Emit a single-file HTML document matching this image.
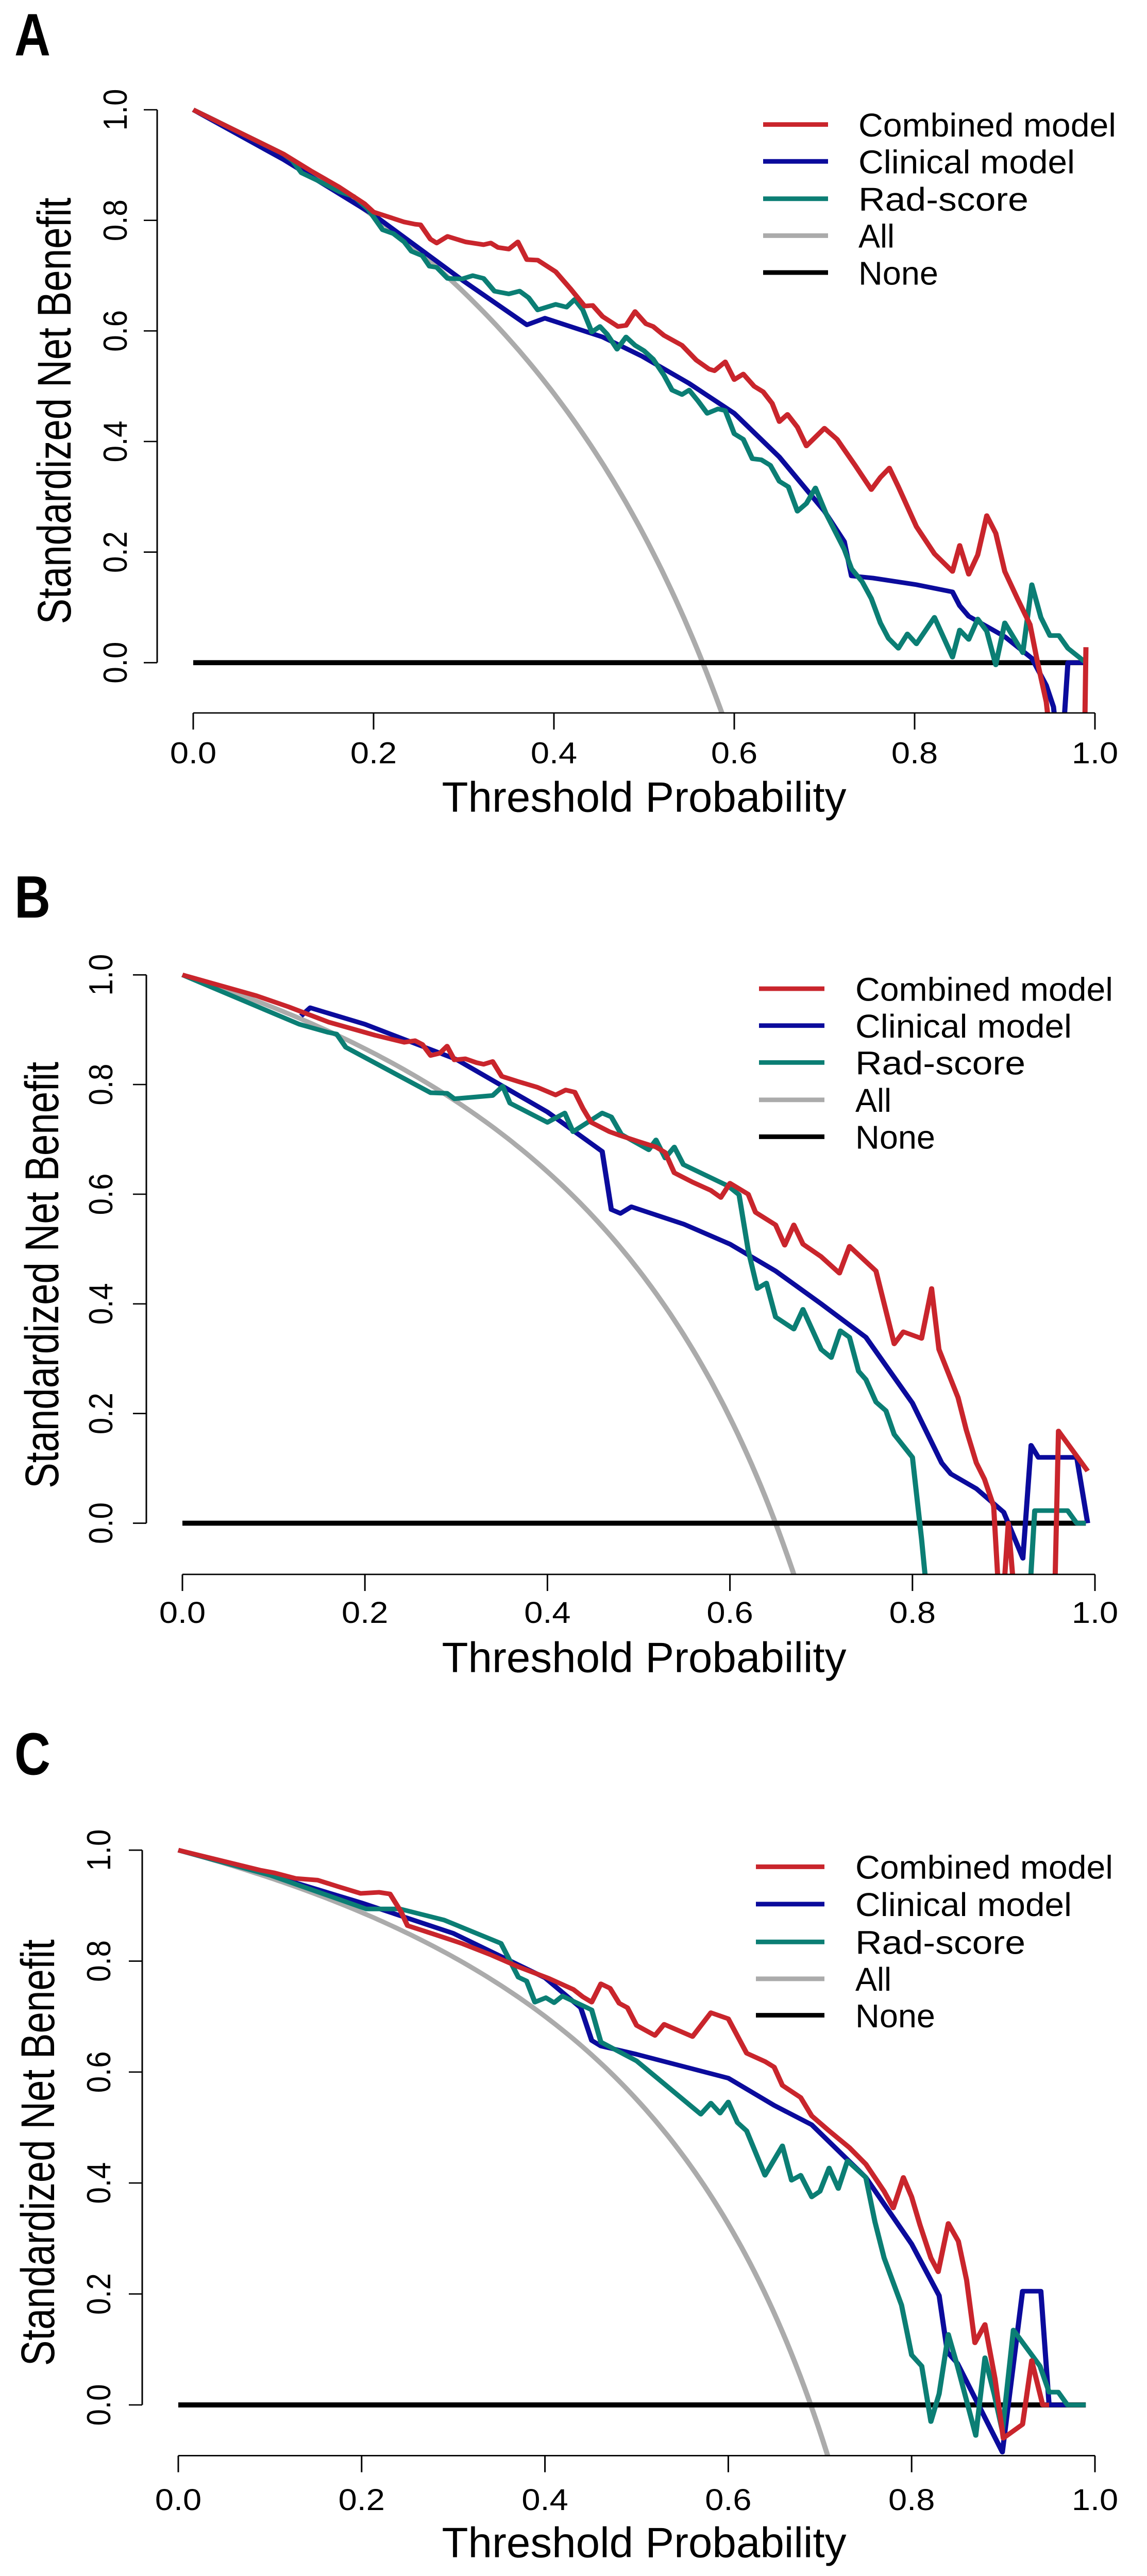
<!DOCTYPE html>
<html><head><meta charset="utf-8"><title>Decision curves</title>
<style>html,body{margin:0;padding:0;background:#fff;width:100%;height:100%;overflow:hidden}svg{display:block;position:absolute;left:0;top:0;width:100vw;height:100vh}text{font-family:"Liberation Sans",sans-serif}</style>
</head><body>
<svg id="fig" viewBox="0 0 2226 5586" preserveAspectRatio="none" xmlns="http://www.w3.org/2000/svg"></svg>
<script>
// ---------- data ----------
const xTicks=[0,0.2,0.4,0.6,0.8,1.0];
const xTickLabels=["0.0","0.2","0.4","0.6","0.8","1.0"];
const yTicks=[0,0.2,0.4,0.6,0.8,1.0];
const yTickLabels=["0.0","0.2","0.4","0.6","0.8","1.0"];
const seriesNames=["Combined model","Clinical model","Rad-score","All","None"];
const panelLetters=["A","B","C"];
// prevalence (zero-crossing of "All" curve) per panel
const prevalence=[0.565,0.65,0.69];

const aCombX=[0,0.1,0.13,0.162,0.19,0.2,0.234,0.246,0.252,0.263,0.27,0.282,0.302,0.322,0.33,0.338,0.35,0.36,0.37,0.382,0.402,0.418,0.434,0.443,0.454,0.471,0.48,0.49,0.502,0.51,0.522,0.542,0.558,0.572,0.578,0.59,0.6,0.61,0.622,0.632,0.642,0.65,0.659,0.67,0.68,0.7,0.714,0.734,0.752,0.762,0.772,0.782,0.802,0.822,0.842,0.85,0.86,0.87,0.88,0.89,0.9,0.914,0.928,0.936,0.946,0.955,0.988,0.99];
const aCombY=[1,0.92,0.89,0.86,0.83,0.815,0.797,0.793,0.792,0.766,0.759,0.771,0.761,0.756,0.759,0.751,0.748,0.761,0.729,0.728,0.707,0.677,0.645,0.646,0.626,0.608,0.61,0.635,0.613,0.608,0.592,0.574,0.547,0.531,0.528,0.544,0.512,0.522,0.5,0.49,0.469,0.436,0.449,0.426,0.392,0.424,0.404,0.357,0.313,0.335,0.352,0.318,0.246,0.197,0.165,0.212,0.16,0.195,0.266,0.234,0.165,0.116,0.069,0.003,-0.071,-0.2,-0.2,0.028];
const aClinX=[0,0.1,0.13,0.2,0.3,0.37,0.39,0.454,0.498,0.55,0.6,0.65,0.7,0.722,0.73,0.754,0.802,0.842,0.85,0.86,0.9,0.93,0.946,0.954,0.962,0.97,0.99];
const aClinY=[1,0.91,0.88,0.81,0.69,0.611,0.623,0.589,0.554,0.505,0.451,0.372,0.274,0.219,0.157,0.153,0.141,0.128,0.103,0.084,0.047,0.008,-0.041,-0.08,-0.2,0,0];
const aRadX=[0,0.1,0.11,0.12,0.138,0.162,0.178,0.194,0.21,0.222,0.234,0.242,0.254,0.262,0.27,0.282,0.298,0.31,0.322,0.334,0.35,0.362,0.372,0.382,0.402,0.414,0.423,0.432,0.442,0.451,0.459,0.47,0.48,0.49,0.5,0.51,0.522,0.531,0.542,0.55,0.56,0.57,0.582,0.59,0.6,0.61,0.62,0.63,0.64,0.65,0.66,0.67,0.68,0.69,0.702,0.722,0.73,0.742,0.752,0.762,0.771,0.782,0.792,0.802,0.822,0.842,0.85,0.86,0.87,0.88,0.89,0.9,0.92,0.93,0.94,0.95,0.96,0.97,0.99];
const aRadY=[1,0.92,0.908,0.886,0.872,0.852,0.843,0.82,0.783,0.776,0.761,0.744,0.736,0.717,0.715,0.695,0.694,0.7,0.695,0.672,0.667,0.672,0.66,0.638,0.648,0.643,0.657,0.638,0.598,0.608,0.594,0.567,0.589,0.574,0.564,0.549,0.52,0.493,0.485,0.493,0.473,0.451,0.459,0.456,0.414,0.404,0.369,0.367,0.357,0.328,0.318,0.274,0.288,0.316,0.269,0.205,0.17,0.146,0.116,0.072,0.044,0.026,0.052,0.034,0.082,0.01,0.059,0.042,0.079,0.057,-0.004,0.072,0.018,0.141,0.082,0.049,0.049,0.026,0];

const bCombX=[0,0.081,0.116,0.16,0.211,0.243,0.255,0.263,0.272,0.282,0.29,0.298,0.31,0.322,0.33,0.34,0.35,0.369,0.389,0.409,0.42,0.43,0.439,0.448,0.468,0.478,0.5,0.519,0.529,0.539,0.559,0.579,0.59,0.6,0.62,0.628,0.65,0.66,0.67,0.68,0.7,0.72,0.731,0.76,0.78,0.79,0.81,0.821,0.829,0.85,0.859,0.87,0.879,0.889,0.897,0.905,0.915,0.955,0.96,0.992];
const bCombY=[1,0.962,0.942,0.914,0.89,0.877,0.88,0.873,0.853,0.857,0.87,0.845,0.847,0.84,0.837,0.842,0.815,0.805,0.795,0.781,0.79,0.786,0.756,0.731,0.714,0.708,0.696,0.686,0.676,0.639,0.622,0.607,0.594,0.62,0.6,0.567,0.544,0.507,0.544,0.509,0.486,0.456,0.505,0.46,0.327,0.349,0.337,0.428,0.317,0.229,0.17,0.11,0.08,0.031,-0.2,0,-0.2,-0.2,0.168,0.095];
const bClinX=[0.13,0.14,0.2,0.3,0.4,0.46,0.47,0.48,0.492,0.55,0.6,0.65,0.7,0.749,0.8,0.832,0.842,0.87,0.9,0.921,0.93,0.938,0.98,0.992];
const bClinY=[0.925,0.94,0.91,0.846,0.75,0.678,0.572,0.565,0.577,0.545,0.509,0.46,0.4,0.339,0.219,0.11,0.09,0.063,0.02,-0.064,0.142,0.12,0.12,0];
const bRadX=[0,0.128,0.16,0.169,0.179,0.272,0.29,0.298,0.34,0.351,0.359,0.4,0.419,0.428,0.46,0.47,0.481,0.511,0.519,0.529,0.539,0.549,0.598,0.61,0.62,0.63,0.64,0.65,0.67,0.68,0.7,0.711,0.721,0.731,0.741,0.749,0.76,0.771,0.78,0.8,0.81,0.82,0.925,0.926,0.934,0.97,0.98,0.99];
const bRadY=[1,0.91,0.895,0.892,0.868,0.785,0.784,0.774,0.78,0.797,0.766,0.731,0.748,0.714,0.748,0.741,0.709,0.681,0.699,0.666,0.686,0.654,0.615,0.599,0.498,0.428,0.438,0.376,0.354,0.39,0.317,0.302,0.351,0.339,0.277,0.262,0.221,0.205,0.162,0.12,-0.029,-0.2,-0.2,-0.2,0.023,0.023,0,0];

const cCombX=[0,0.089,0.105,0.128,0.152,0.175,0.199,0.219,0.231,0.243,0.25,0.278,0.309,0.34,0.372,0.404,0.431,0.441,0.451,0.461,0.471,0.481,0.49,0.5,0.52,0.53,0.561,0.581,0.6,0.62,0.64,0.65,0.659,0.679,0.691,0.71,0.732,0.75,0.77,0.78,0.791,0.8,0.809,0.821,0.829,0.84,0.851,0.86,0.869,0.88,0.891,0.9,0.921,0.931,0.943,0.95];
const cCombY=[1,0.964,0.959,0.949,0.946,0.934,0.922,0.924,0.921,0.889,0.864,0.849,0.832,0.812,0.789,0.769,0.749,0.736,0.726,0.759,0.751,0.724,0.716,0.684,0.666,0.686,0.664,0.707,0.696,0.634,0.619,0.609,0.576,0.554,0.521,0.494,0.464,0.434,0.385,0.355,0.41,0.375,0.325,0.265,0.24,0.327,0.295,0.225,0.112,0.145,0.047,-0.06,-0.035,0.08,0,0];
const cClinX=[0,0.1,0.2,0.3,0.4,0.439,0.451,0.461,0.5,0.6,0.65,0.691,0.75,0.8,0.83,0.839,0.85,0.899,0.921,0.941,0.95,0.97];
const cClinY=[1,0.955,0.905,0.85,0.77,0.716,0.657,0.647,0.632,0.589,0.54,0.505,0.41,0.29,0.197,0.095,0.075,-0.085,0.205,0.205,0,0];
const cRadX=[0,0.1,0.205,0.242,0.29,0.352,0.371,0.38,0.389,0.401,0.41,0.419,0.451,0.461,0.5,0.57,0.581,0.591,0.6,0.61,0.62,0.64,0.659,0.669,0.679,0.691,0.7,0.71,0.72,0.73,0.75,0.76,0.77,0.789,0.8,0.811,0.821,0.83,0.84,0.85,0.87,0.88,0.89,0.899,0.911,0.94,0.95,0.96,0.97,0.99];
const cRadY=[1,0.955,0.894,0.894,0.874,0.832,0.771,0.764,0.726,0.734,0.725,0.737,0.712,0.654,0.62,0.524,0.544,0.526,0.546,0.509,0.494,0.414,0.467,0.405,0.414,0.375,0.385,0.427,0.39,0.44,0.41,0.33,0.265,0.18,0.09,0.07,-0.03,0.02,0.127,0.07,-0.055,0.085,0.02,-0.047,0.135,0.07,0.023,0.023,0,0];

const panels=[
 {x0:375,x1:2125,y0:1437,y1:238,bot:1546,yax:305,tickLblY:1655,titleY:1760,ylx:105,ylcy:891,tickLblX:224,legLine:[1481,1607],legText:1666,legY:[270,350,431,511,591],letterY:120,
  comb:[aCombX,aCombY],clin:[aClinX,aClinY],rad:[aRadX,aRadY],prev:prevalence[0]},
 {x0:354,x1:2125,y0:3303,y1:2114,bot:3414,yax:284,tickLblY:3519,titleY:3626,ylx:81,ylcy:2765,tickLblX:196,legLine:[1473,1600],legText:1660,legY:[2144,2224,2304,2385,2465],letterY:1990,
  comb:[bCombX,bCombY],clin:[bClinX,bClinY],rad:[bRadX,bRadY],prev:prevalence[1]},
 {x0:346,x1:2125,y0:5215,y1:4012,bot:5325,yax:276,tickLblY:5443,titleY:5545,ylx:73,ylcy:4668,tickLblX:192,legLine:[1467,1600],legText:1660,legY:[4048,4129,4211,4291,4370],letterY:3848,
  comb:[cCombX,cCombY],clin:[cClinX,cClinY],rad:[cRadX,cRadY],prev:prevalence[2]}
];
const colors={comb:"#C9252C",clin:"#0B0B9C",rad:"#0B7E74",all:"#ABABAB",none:"#000000"};
const NS="http://www.w3.org/2000/svg";
const svg=document.getElementById('fig');
function mk(tag,attrs,parent){const e=document.createElementNS(NS,tag);for(const k in attrs)e.setAttribute(k,attrs[k]);parent.appendChild(e);return e;}

panels.forEach((p,pi)=>{
  const sx=v=>p.x0+(p.x1-p.x0)*v;
  const sy=v=>p.y0-(p.y0-p.y1)*v;
  const g=mk('g',{},svg);
  
  
  const letter=mk('text',{x:28,y:p.letterY,'font-size':130,'font-weight':'bold',textLength:70,lengthAdjust:'spacingAndGlyphs'},g);
  letter.textContent=panelLetters[pi];
  
  
  const cid='clip'+pi;
  const cp=mk('clipPath',{id:cid},g);
  mk('rect',{x:p.x0-20,y:p.y1-60,width:p.x1-p.x0+40,height:p.bot-p.y1+60},cp);
  const plot=mk('g',{'clip-path':'url(#'+cid+')'},g);
  
  
  let d='';
  for(let i=0;i<=200;i++){const t=i/200*0.99;const v=1-(1-p.prev)/p.prev*t/(1-t);if(v<-0.5)break;d+=(i?'L':'M')+sx(t).toFixed(1)+','+sy(v).toFixed(1);}
  const all=mk('path',{d:d,fill:'none',stroke:colors.all,'stroke-width':10},plot);
  
  
  const none=mk('line',{x1:sx(0),x2:sx(0.99),y1:sy(0),y2:sy(0),stroke:colors.none,'stroke-width':11},plot);
  
  
  [['clin','clinical-model-curve'],['rad','rad-score-curve'],['comb','combined-model-curve']].forEach(([k,nm])=>{
    const xs=p[k][0],ys=p[k][1];
    let dd='';xs.forEach((x,i)=>{dd+=(i?'L':'M')+sx(x).toFixed(1)+','+sy(ys[i]).toFixed(1);});
    const pa=mk('path',{d:dd,fill:'none',stroke:colors[k],'stroke-width':10,'stroke-linejoin':'round'},plot);
    
    
  });
  const ya=mk('line',{x1:p.yax,x2:p.yax,y1:sy(0),y2:sy(1),stroke:'#000','stroke-width':3},g);
  
  
  yTicks.forEach((v,i)=>{
    mk('line',{x1:p.yax-26,x2:p.yax,y1:sy(v),y2:sy(v),stroke:'#000','stroke-width':3},g);
    const t=mk('text',{x:0,y:0,'font-size':65,'text-anchor':'middle',transform:'translate('+(p.tickLblX+22)+','+sy(v)+') rotate(-90)'},g);
    t.textContent=yTickLabels[i];
    
    
  });
  const xa=mk('line',{x1:sx(0),x2:sx(1),y1:p.bot,y2:p.bot,stroke:'#000','stroke-width':3},g);
  
  
  xTicks.forEach((v,i)=>{
    mk('line',{x1:sx(v),x2:sx(v),y1:p.bot,y2:p.bot+36,stroke:'#000','stroke-width':3},g);
    const t=mk('text',{x:sx(v),y:p.tickLblY,'font-size':65,'text-anchor':'middle'},g);
    t.textContent=xTickLabels[i];
    
    
  });
  const xt=mk('text',{x:1250,y:p.titleY,'font-size':92,'text-anchor':'middle',textLength:785,lengthAdjust:'spacingAndGlyphs'},g);
  xt.textContent='Threshold Probability';
  
  
  const yt=mk('text',{x:0,y:0,'font-size':92,'text-anchor':'middle',textLength:925,lengthAdjust:'spacingAndGlyphs',transform:'translate('+(p.ylx+32)+','+p.ylcy+') rotate(-90)'},g);
  yt.textContent='Standardized Net Benefit';
  
  
  const lg=mk('g',{},g);
  
  
  const lc=[colors.comb,colors.clin,colors.rad,colors.all,colors.none];
  const lw=[500,420,330,70,155];
  seriesNames.forEach((n,i)=>{
    const ent=mk('g',{},lg);
    
    
    mk('line',{x1:p.legLine[0],x2:p.legLine[1],y1:p.legY[i],y2:p.legY[i],stroke:lc[i],'stroke-width':10},ent);
    const t=mk('text',{x:p.legText,y:p.legY[i]+26,'font-size':72,textLength:lw[i],lengthAdjust:'spacingAndGlyphs'},ent);
    t.textContent=n;
  });
});
</script>
</body></html>
